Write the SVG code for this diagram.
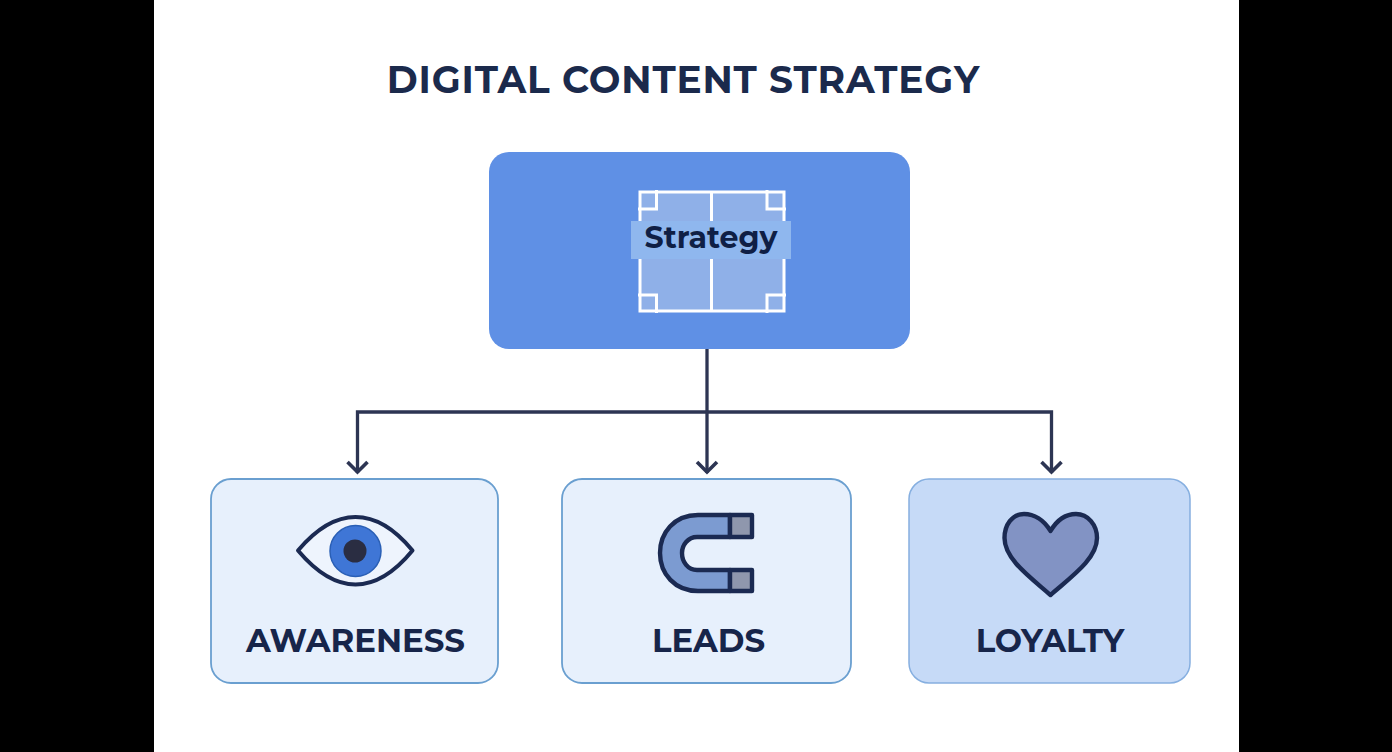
<svg xmlns="http://www.w3.org/2000/svg" width="1392" height="752" viewBox="0 0 1392 752">
<defs>
<marker id="arrow" markerUnits="userSpaceOnUse" markerWidth="24" markerHeight="24" refX="15" refY="12" orient="auto" viewBox="0 0 24 24"><path d="M4 2L14 12L4 22" fill="none" stroke="#2d3553" stroke-width="3.600"/></marker>
</defs>
<style>
text{font-family:"Montserrat","Inter","Liberation Sans",sans-serif;font-weight:700;fill:#17254a;text-anchor:middle}
.label{font-size:32.300px}
.conn{fill:none;stroke:#2d3553;stroke-width:3.300}
.grid{stroke:#fff;stroke-width:3;fill:none}
.ink{stroke:#1b2a52;stroke-width:4.400;stroke-linejoin:round}
</style>
<rect width="1392" height="752" fill="#000"/>
<rect x="154" width="1085" height="752" fill="#fff"/>
<text id="title" x="683.500" y="93" font-size="37.500" letter-spacing="0.850" style="fill:#1b2a4c">DIGITAL CONTENT STRATEGY</text>
<g id="connectors">
<path class="conn" d="M707 349V412"/>
<path class="conn" d="M707 412H357.500V473" marker-end="url(#arrow)"/>
<path class="conn" d="M707 412H1051.500V473" marker-end="url(#arrow)"/>
<path class="conn" d="M707 412V473" marker-end="url(#arrow)"/>
</g>
<g id="node-strategy">
<rect x="489" y="152" width="421" height="197" rx="20" fill="#5f90e5"/>
<rect x="640" y="193" width="144" height="118" fill="#8fb0e8"/>
<path class="grid" d="M640 192H784V311H640ZM711.500 192V311M656.500 190V209H638M767 190V209H786M638 295H656.500V313M786 295H767V313"/>
<rect x="631" y="221" width="160" height="38" fill="#8fb7ee"/>
<text x="711" y="248" font-size="30" style="fill:#0f1f45">Strategy</text>
</g>
<g id="node-awareness">
<rect x="211" y="479" width="287" height="204" rx="20" fill="#e7f0fc" stroke="#6a9fd0" stroke-width="1.800"/>
<path d="M298 550.500C317 528 335 517 355.500 517C376 517 394 528 412.500 550.500C394 573 376 584.500 355.500 584.500C335 584.500 317 573 298 550.500Z" fill="#eef4fd" stroke="#1b2a52" stroke-width="4" stroke-linejoin="round"/>
<circle cx="355.500" cy="551" r="25.500" fill="#3f76d6" stroke="#2a5fb5" stroke-width="1.500"/>
<circle cx="355" cy="551" r="11.500" fill="#2a2d42"/>
<text class="label" x="355.500" y="652">AWARENESS</text>
</g>
<g id="node-leads">
<rect x="562" y="479" width="289" height="204" rx="20" fill="#e7f0fc" stroke="#6a9fd0" stroke-width="1.800"/>
<path class="ink" d="M730 515H698C674 515 660 533 660 553C660 574 675 591 698 591H730V570H697C688 570 682 562 682 553C682 545 688 537 697 537H730Z" fill="#7c9bd1"/>
<rect x="730" y="515" width="22" height="22" fill="#8f97ad" class="ink"/>
<rect x="730" y="570" width="22" height="21" fill="#8f97ad" class="ink"/>
<text class="label" x="708.500" y="652">LEADS</text>
</g>
<g id="node-loyalty">
<rect x="909" y="479" width="281" height="204" rx="20" fill="#c6daf7" stroke="#86afe0" stroke-width="1.500"/>
<path class="ink" d="M1050.500 531C1044 520 1034 514 1024 514C1012 514 1004.500 525 1004.500 538C1004.500 559 1030 577 1050.500 595C1071 577 1097 559 1097 538C1097 525 1088 514 1076 514C1066 514 1057 520 1050.500 531Z" fill="#8293c4"/>
<text class="label" x="1050" y="652">LOYALTY</text>
</g>
</svg>
